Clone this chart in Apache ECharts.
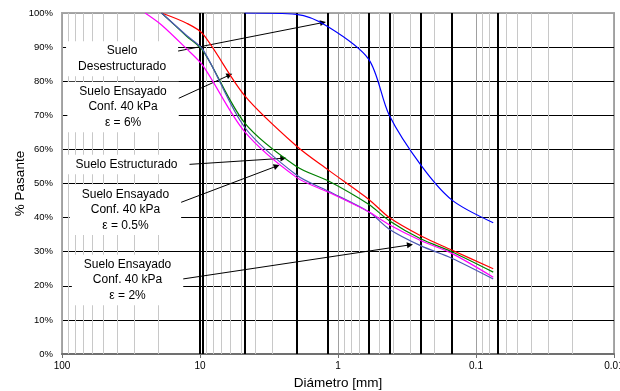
<!DOCTYPE html>
<html><head><meta charset="utf-8">
<script src="https://cdn.jsdelivr.net/npm/echarts@6/dist/echarts.min.js"></script>
<style>html,body{margin:0;padding:0;background:#fff}#c{width:620px;height:391px}</style>
</head><body><div id="c"></div>
<script>
// Sieve sizes (mm) and % passing for each curve
const sieves = [25, 19, 12.5, 9.5, 4.75, 2, 1.18, 0.6, 0.425, 0.25, 0.15, 0.075];
const ensayado6 = [null, 100, 97, 93.8, 75.8, 61, 54, 45.4, 40.0, 34.6, 30.5, 25.0];
const estructurado = [null, 100, 93.2, 88.9, 67.8, 55.0, 50.8, 43.9, 39.1, 33.7, 30.0, 24.0];
const ensayado2 = [null, 100, 93.4, 89.2, 66.5, 52.5, 47.8, 41.7, 36.6, 31.7, 28.1, 22.0];
const ensayado05 = [100, 96.5, 89.5, 84.5, 65.2, 51.8, 47.5, 41.7, 37.9, 33.2, 29.5, 22.5];
const desestructurado = [null, null, null, null, 100, 99.6, 96.0, 86.5, 70.0, 55.3, 45.2, 38.5];

// Reference lines
const sieveLines = [10, 9.5, 4.75, 2, 1.18, 0.6, 0.425, 0.25, 0.15, 0.075];
const minorGrid = [90, 80, 70, 60, 50, 40, 30, 20,
                   9, 8, 7, 6, 5, 4, 3, 2,
                   0.9, 0.8, 0.7, 0.6, 0.5, 0.4, 0.3, 0.2,
                   0.09, 0.08, 0.07, 0.06, 0.05, 0.04, 0.03, 0.02];

// Annotations (data coordinates: mm, %)
const annotTexts = ['Suelo\nDesestructurado', 'Suelo Ensayado\nConf. 40 kPa\nε = 6%', 'Suelo Estructurado',
                    'Suelo Ensayado\nConf. 40 kPa\nε = 0.5%', 'Suelo Ensayado\nConf. 40 kPa\nε = 2%'];
const annotAt = [[36.7, 86.6], [36.1, 72.4], [34.1, 55.6], [34.7, 42.3], [33.5, 21.7]];
const arrowFrom = [[20.05, 87.7], [18.95, 72.7], [14.36, 55.4], [18.45, 42.5], [14.93, 21.7]];
const arrowTo = [[1.284, 97.2], [6.11, 81.8], [2.49, 57.4], [2.78, 55.1], [0.301, 32.0]];

const FONT = 'Liberation Sans, Arial, sans-serif';
function pairs(arr) {
  const out = [];
  sieves.forEach((s, i) => { if (arr[i] !== null) out.push([s, arr[i]]); });
  return out;
}
function curve(name, arr, color) {
  return {
    name, type: 'line', data: pairs(arr), smooth: 0.3, showSymbol: false, symbol: 'none',
    lineStyle: {color, width: 1.2}, itemStyle: {color}, z: 6, silent: true
  };
}
const yColors = ['#000','#000','#000','#000','#000','#000','#000','#000','#000','#000','#a0a0a0'];

const chart = echarts.init(document.getElementById('c'), null, {renderer: 'canvas'});
chart.setOption({
  animation: false,
  textStyle: {fontFamily: FONT},
  grid: {left: 62, right: 6, top: 13, bottom: 37, show: true, borderColor: '#a8a8a8', borderWidth: 2,
         containLabel: false, outerBoundsMode: 'none'},
  xAxis: {
    type: 'log', logBase: 10, min: 0.01, max: 100, inverse: true,
    name: 'Diámetro [mm]', nameLocation: 'middle', nameGap: 22, nameMoveOverlap: false,
    nameTextStyle: {fontSize: 13.5, color: '#000', fontFamily: FONT},
    axisLine: {show: true, lineStyle: {color: '#707070', width: 2}},
    axisTick: {show: true, length: 4, lineStyle: {color: '#707070'}},
    axisLabel: {fontSize: 10, color: '#000', margin: 7, fontFamily: FONT,
      formatter: v => String(+v.toPrecision(6))},
    splitLine: {show: true, lineStyle: {color: '#a0a0a0', width: 1}}
  },
  yAxis: {
    type: 'value', min: 0, max: 100, interval: 10,
    name: '% Pasante', nameLocation: 'middle', nameGap: 35, nameRotate: 90, nameMoveOverlap: false,
    nameTextStyle: {fontSize: 13.5, color: '#000', fontFamily: FONT},
    axisLine: {show: true, lineStyle: {color: '#a0a0a0', width: 1}},
    axisTick: {show: false},
    axisLabel: {fontSize: 9.5, color: '#000', margin: 9, formatter: '{value}%', fontFamily: FONT},
    splitLine: {show: true, lineStyle: {color: yColors, width: 1}}
  },
  series: [
    {
      name: 'minor', type: 'line', data: [], silent: true, z: 1,
      markLine: {silent: true, symbol: ['none', 'none'], label: {show: false}, animation: false,
        lineStyle: {color: '#c8c8c8', width: 1, type: 'solid'},
        data: minorGrid.map(v => ({xAxis: v}))}
    },
    {
      name: 'sieves', type: 'line', data: [], silent: true, z: 2,
      markLine: {silent: true, symbol: ['none', 'none'], label: {show: false}, animation: false,
        lineStyle: {color: '#000', width: 2, type: 'solid'},
        data: sieveLines.map(v => ({xAxis: v}))}
    },
    {
      name: 'annotations', type: 'line', data: [], silent: true, z: 4,
      markPoint: {
        symbol: 'rect', symbolSize: 1, itemStyle: {color: 'rgba(0,0,0,0)'}, animation: false,
        label: {show: true, position: 'inside', formatter: '{b}', color: '#000', fontSize: 12,
          fontFamily: FONT, lineHeight: 15.5, backgroundColor: '#fff', padding: [2, 12],
          align: 'center', verticalAlign: 'middle'},
        data: annotTexts.map((t, i) => ({name: t, coord: annotAt[i]}))
      },
      markLine: {
        silent: true, symbol: ['none', 'triangle'], symbolSize: 6, animation: false,
        label: {show: false}, lineStyle: {color: '#000', width: 1, type: 'solid'},
        itemStyle: {color: '#000'},
        data: arrowFrom.map((f, i) => [{coord: f}, {coord: arrowTo[i]}])
      }
    },
    curve('Suelo Ensayado ε = 6%', ensayado6, '#ff0000'),
    curve('Suelo Estructurado', estructurado, '#008000'),
    curve('Suelo Ensayado ε = 2%', ensayado2, '#4c56b4'),
    curve('Suelo Ensayado ε = 0.5%', ensayado05, '#ff00ff'),
    curve('Suelo Desestructurado', desestructurado, '#0000ff')
  ]
});
</script></body></html>
